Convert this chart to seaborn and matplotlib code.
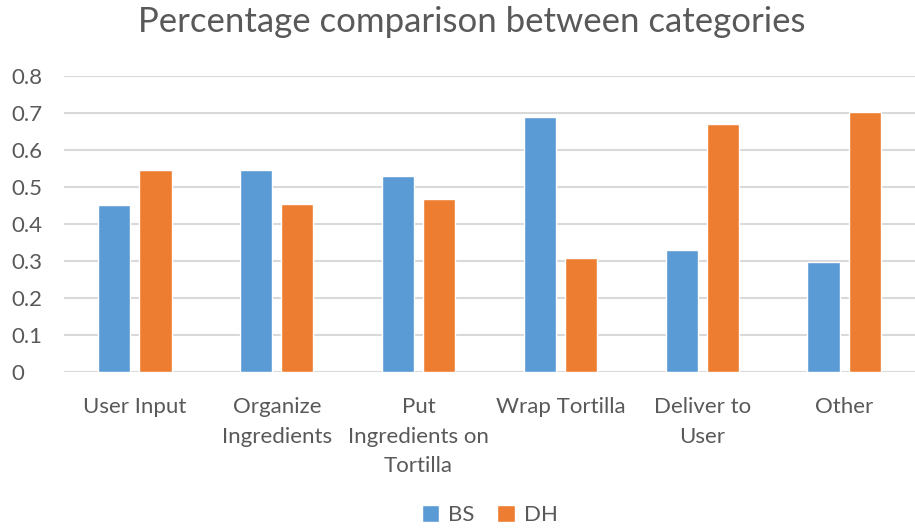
import pandas as pd
import numpy as np
import matplotlib
matplotlib.use("Agg")
import matplotlib.pyplot as plt
import seaborn as sns

# values
categories = ["User Input", "Organize\nIngredients", "Put\nIngredients on\nTortilla",
              "Wrap Tortilla", "Deliver to\nUser", "Other"]
bs_values = [0.452, 0.545, 0.531, 0.689, 0.329, 0.296]
dh_values = [0.547, 0.453, 0.468, 0.309, 0.669, 0.703]
series = ["BS", "DH"]
y_ticks = [0, 0.1, 0.2, 0.3, 0.4, 0.5, 0.6, 0.7, 0.8]
y_labels = ["0", "0.1", "0.2", "0.3", "0.4", "0.5", "0.6", "0.7", "0.8"]

df = pd.DataFrame({
    "category": categories * 2,
    "value": bs_values + dh_values,
    "series": [series[0]] * len(categories) + [series[1]] * len(categories),
})

sns.set_style("white")
plt.rcParams["font.family"] = ["Lato", "DejaVu Sans"]
txt = "#595959"

fig = plt.figure(figsize=(9.15, 5.29), dpi=100)
ax = fig.add_axes([0.070, 0.2968, 0.930, 0.5595])

sns.barplot(data=df, x="category", y="value", hue="series", order=categories,
            palette=["#5B9BD5", "#ED7D31"], width=0.58, gap=0.22,
            saturation=1, ax=ax, legend=True)

ax.set_ylim(0, 0.8)
ax.set_xlim(-0.5, 5.5)
ax.set_yticks(y_ticks)
ax.set_yticklabels(y_labels)
ax.yaxis.grid(True, color="#D9D9D9", linewidth=1.5)
ax.set_axisbelow(True)
for s in ax.spines.values():
    s.set_visible(False)
ax.set_xlabel("")
ax.set_ylabel("")
ax.tick_params(axis="both", length=0, colors=txt, labelsize=16)
ax.tick_params(axis="x", pad=18)
ax.tick_params(axis="y", pad=38)
for lbl in ax.get_yticklabels():
    lbl.set_horizontalalignment("left")
for lbl in ax.get_xticklabels():
    lbl.set_linespacing(1.6)

fig.text(0.516, 0.958, "Percentage comparison between categories", ha="center", va="center",
         fontsize=25, color=txt)

ax.get_legend().remove()
handles, labels = ax.get_legend_handles_labels()
fig.legend(handles, labels, loc="center", bbox_to_anchor=(0.535, 0.026), ncol=2, frameon=False,
           fontsize=16, handlelength=0.8, handleheight=0.8, handletextpad=0.4,
           columnspacing=1.0, labelcolor=txt)

fig.savefig("out.png", dpi=100)
